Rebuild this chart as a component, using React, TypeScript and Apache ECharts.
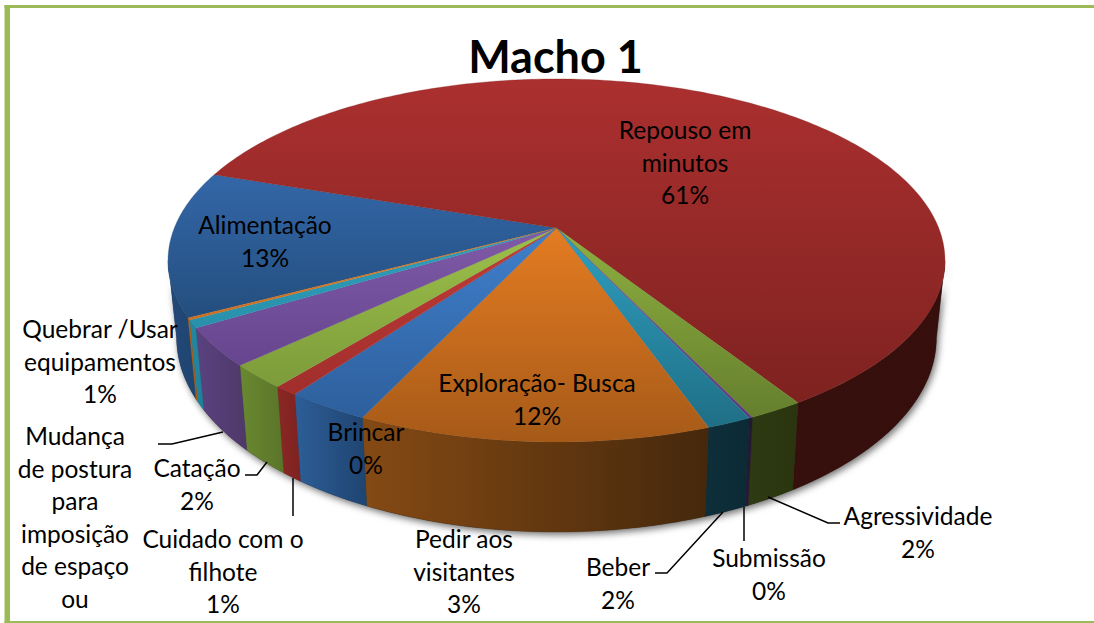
import React, { useEffect, useRef } from "react";
import * as echarts from "echarts";

// Data, clockwise from the Alimentação slice (values in %)
const categories = [
  "Alimentação", "Repouso em minutos", "Agressividade", "Submissão", "Beber", "Exploração- Busca",
  "Pedir aos visitantes", "Cuidado com o filhote", "Catação", "Mudança de postura", "Quebrar /Usar equipamentos", "Brincar",
];
const values = [12.97, 60.8, 1.94, 0.13, 1.58, 12.36, 2.96, 0.86, 2.13, 3.42, 0.68, 0.18];

// Face colours: [top-of-slice, bottom-of-slice]; rim colours: [left, right]
const faceColors = [
  ["#3467a8", "#234e7e"], ["#ab302f", "#7e2220"], ["#8fb03f", "#657f2e"], ["#7a52a5", "#5a3d7c"],
  ["#2f9fc0", "#1f6f86"], ["#e47c22", "#a65a18"], ["#4080cc", "#2d5f9c"], ["#c33c38", "#a02e2c"],
  ["#9dc14b", "#7c9b3a"], ["#7f5aa8", "#66468e"], ["#30a0bd", "#2890aa"], ["#e07c22", "#c96e1e"],
];
const rimColors = [
  ["#23497a", "#1f4470"], ["#36100d", "#360f0d"], ["#2e3a12", "#2a350f"], ["#261a38", "#231733"],
  ["#0e2f3a", "#0b2a34"], ["#854a14", "#45280c"], ["#2d5e98", "#1f4470"], ["#8a2724", "#7e2321"],
  ["#6a8830", "#5a7529"], ["#5a4280", "#4f3868"], ["#2489a3", "#1f7f98"], ["#b5651a", "#a65c17"],
];

const chartTitle = "Macho 1";
const labelTexts = [
  ["Repouso em", "minutos", "61%"],
  ["Alimentação", "13%"],
  ["Quebrar /Usar", "equipamentos", "1%"],
  ["Mudança", "de postura", "para", "imposição", "de espaço", "ou"],
  ["Catação", "2%"],
  ["Cuidado com o", "filhote", "1%"],
  ["Brincar", "0%"],
  ["Exploração- Busca", "12%"],
  ["Pedir aos", "visitantes", "3%"],
  ["Beber", "2%"],
  ["Submissão", "0%"],
  ["Agressividade", "2%"],
];
// centre x, centre y of each label block
const labelPlaces = [
  [685, 162], [265, 241], [100, 361], [75, 517], [197, 484], [223, 571],
  [366, 448], [537, 399], [464, 571], [618, 583], [769, 574], [918, 532],
];
const leaders = [
  [[158, 444], [172, 444], [223, 432]],
  [[245, 475], [257, 475], [267, 462]],
  [[293, 478], [293, 516]],
  [[655, 573], [667, 573], [723, 512]],
  [[744, 507], [744, 541]],
  [[768, 497], [828, 523], [840, 523]],
];

// Perspective of the disc
const CX = 556.5, CY = 228, A = 382.2, B = 175.7, K = 0.179;
const RIM_DX = 0.978, RIM_DY = 1.07, RIM_H = 75;
const START = 242.02;
const TANGENT = 100.3; // angle where the top rim starts to be visible

const total = values.reduce((a, b) => a + b, 0);
const starts: number[] = [];
values.reduce((acc, v, i) => {
  starts[i] = acc;
  return acc + (v / total) * 360;
}, START);

function project(deg: number) {
  const t = (deg * Math.PI) / 180;
  const X = Math.sin(t), Y = Math.cos(t);
  const w = 1 + K * Y;
  return [(A * X) / w, (-B * Y) / w];
}
const topPoint = (deg: number) => {
  const [x, y] = project(deg);
  return [CX + x, CY + y];
};
const bottomPoint = (deg: number) => {
  const [x, y] = project(deg);
  return [CX + x * RIM_DX, CY + RIM_H + y * RIM_DY];
};
function arc(from: number, to: number, fn: (d: number) => number[]) {
  const n = Math.max(2, Math.ceil(Math.abs(to - from)));
  const pts: number[][] = [];
  for (let i = 0; i <= n; i++) pts.push(fn(from + ((to - from) * i) / n));
  return pts;
}
const vertical = (c: string[]) =>
  new echarts.graphic.LinearGradient(0, 0, 0, 1, [
    { offset: 0, color: c[0] },
    { offset: 1, color: c[1] },
  ]);
const horizontal = (c: string[]) =>
  new echarts.graphic.LinearGradient(0, 0, 1, 0, [
    { offset: 0, color: c[0] },
    { offset: 1, color: c[1] },
  ]);

function renderFace(params: any) {
  const i = params.dataIndex;
  const from = starts[i];
  const to = from + (values[i] / total) * 360;
  return {
    type: "polygon",
    shape: { points: [[CX, CY], ...arc(from, to, topPoint)] },
    style: { fill: vertical(faceColors[i]), stroke: faceColors[i][1], lineWidth: 0.3 },
  };
}
function renderRim(params: any) {
  const i = params.dataIndex;
  const from = starts[i];
  const to = from + (values[i] / total) * 360;
  const children: any[] = [];
  for (const n of [0, 1, 2]) {
    const a = Math.max(from, TANGENT + 360 * n);
    const b = Math.min(to, 360 - TANGENT + 360 * n);
    if (b > a) {
      children.push({
        type: "polygon",
        shape: { points: [...arc(a, b, topPoint), ...arc(b, a, bottomPoint)] },
        style: { fill: horizontal(rimColors[i]), stroke: rimColors[i][1], lineWidth: 0.3 },
      });
    }
  }
  return { type: "group", children };
}
function renderShadow() {
  return {
    type: "polygon",
    shape: {
      points: [...arc(TANGENT, 360 - TANGENT, topPoint), ...arc(360 - TANGENT, TANGENT, bottomPoint)],
    },
    style: {
      fill: "#444",
      shadowBlur: 7,
      shadowColor: "rgba(0,0,0,0.55)",
      shadowOffsetX: 2,
      shadowOffsetY: 3,
    },
  };
}

const FONT = "Lato, 'Noto Sans', sans-serif";

export default function App() {
  const ref = useRef<HTMLDivElement>(null);
  useEffect(() => {
    const chart = echarts.init(ref.current!, undefined, { renderer: "svg" });
    chart.setOption({
      animation: false,
      backgroundColor: "#ffffff",
      series: [
        { type: "custom", coordinateSystem: "none", silent: true, z: 1, data: [[1]], renderItem: renderShadow },
        { type: "custom", coordinateSystem: "none", silent: true, z: 2, name: "rim", data: values.map((v, i) => ({ name: categories[i], value: [v] })), renderItem: renderRim },
        { type: "custom", coordinateSystem: "none", silent: true, z: 3, name: "face", data: values.map((v, i) => ({ name: categories[i], value: [v] })), renderItem: renderFace },
      ],
      graphic: {
        elements: [
          { type: "rect", z: 10, shape: { x: 4.5, y: 5, width: 5.5, height: 618 }, style: { fill: "#9bbb59" } },
          { type: "rect", z: 10, shape: { x: 4.5, y: 5, width: 1089.5, height: 3 }, style: { fill: "#9bbb59" } },
          { type: "rect", z: 10, shape: { x: 4.5, y: 621, width: 1089.5, height: 2 }, style: { fill: "#9bbb59" } },
          {
            type: "text", z: 20, x: 555.5, y: 56,
            style: { text: chartTitle, fill: "#000", font: `bold 45px ${FONT}`, textAlign: "center", textVerticalAlign: "middle" },
          },
          ...leaders.map((points) => ({
            type: "polyline", z: 15,
            shape: { points },
            style: { stroke: "#000", lineWidth: 1.5, fill: "none" },
          })),
          ...labelTexts.map((lines, i) => ({
            type: "text", z: 20, x: labelPlaces[i][0], y: labelPlaces[i][1],
            style: {
              text: lines.join("\n"), fill: "#000", font: `24.5px ${FONT}`,
              lineHeight: 32.5, textAlign: "center", textVerticalAlign: "middle",
            },
          })),
        ],
      },
    });
    return () => chart.dispose();
  }, []);
  return <div ref={ref} style={{ position: "fixed", left: 0, top: 0, width: 1094, height: 623 }} />;
}
